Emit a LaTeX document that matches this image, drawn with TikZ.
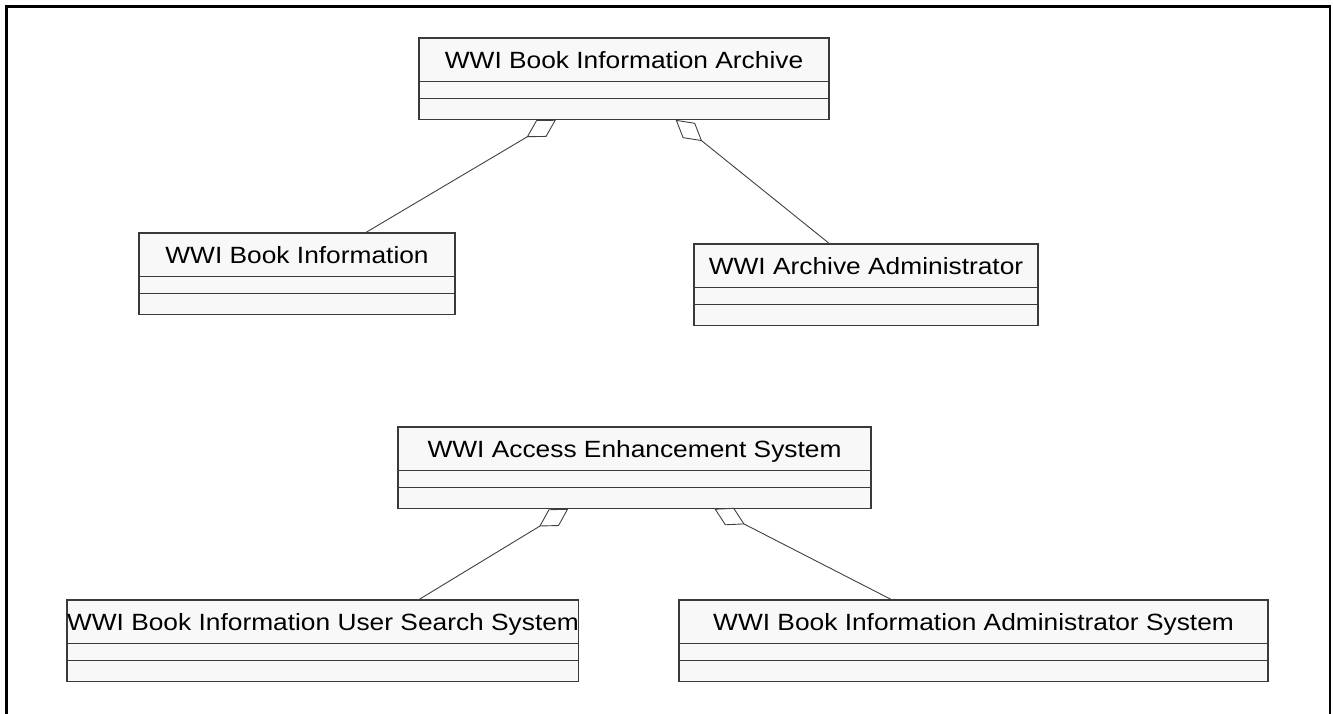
\documentclass[tikz,border=0pt]{standalone}
\usepackage{fontspec}
\setmainfont{Liberation Sans}[FakeStretch=1.12]
\usetikzlibrary{shapes.multipart,arrows.meta,calc}
\definecolor{boxfill}{HTML}{F8F8F8}
\definecolor{boxline}{HTML}{3A3A3A}
\definecolor{conn}{HTML}{404040}
\newcommand\clsparts[1]{\rule[-12.5pt]{0pt}{42pt}#1\nodepart{two}\rule{0pt}{16pt}\nodepart{three}\rule{0pt}{20.5pt}}
\begin{document}
\begin{tikzpicture}[x=1pt,y=-1pt,
  umlclass/.style={rectangle split, rectangle split parts=3, draw=boxline, fill=boxfill,
    line width=1.1pt, inner xsep=0pt, inner ysep=0pt, outer sep=0pt, anchor=north west,
    font=\fontsize{23.5}{28}\selectfont},
  agg/.style={draw=conn, line width=0.9pt, -{Diamond[open, length=34pt, width=19.5pt]}},
  frameline/.style={draw=black, line width=2.2pt}]
\useasboundingbox (0,0) rectangle (1333,713);
\clip (0,0) rectangle (1333,713);
\draw[frameline] (6.5,6.5) rectangle (1330,740);

\node[umlclass, minimum width=410pt] (arch) at (419,38) {\clsparts{WWI Book Information Archive}};
\node[umlclass, minimum width=316pt] (binfo) at (139,233) {\clsparts{WWI Book Information}};
\node[umlclass, minimum width=344pt] (admin) at (694,244) {\clsparts{WWI Archive Administrator}};
\node[umlclass, minimum width=473pt] (aes) at (398,427) {\clsparts{WWI Access Enhancement System}};
\node[umlclass, minimum width=500pt] (search) at (67,600) {\clsparts{WWI Book Information User Search System}};
\node[umlclass, minimum width=589pt] (adsys) at (679,600) {\clsparts{WWI Book Information Administrator System}};

\draw[agg] ($(binfo.north west)!0.715!(binfo.north east)$) -- ($(arch.south west)!0.334!(arch.south east)$);
\draw[agg] ($(admin.north west)!0.395!(admin.north east)$) -- ($(arch.south west)!0.626!(arch.south east)$);
\draw[agg] ($(search.north west)!0.686!(search.north east)$) -- ($(aes.south west)!0.36!(aes.south east)$);
\draw[agg] ($(adsys.north west)!0.362!(adsys.north east)$) -- ($(aes.south west)!0.669!(aes.south east)$);
\end{tikzpicture}
\end{document}
